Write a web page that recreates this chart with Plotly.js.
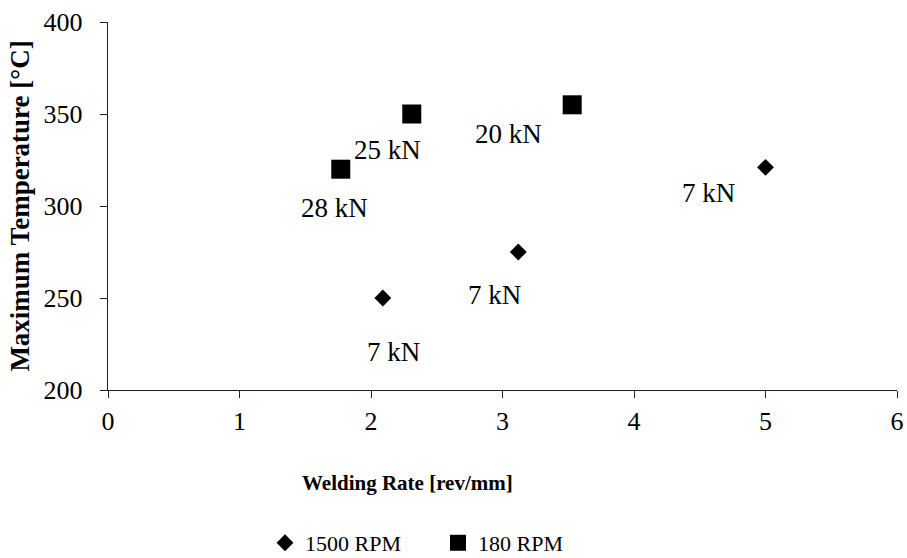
<!DOCTYPE html>
<html>
<head>
<meta charset="utf-8">
<script src="https://cdn.plot.ly/plotly-3.0.1.min.js"></script>
<style>html,body{margin:0;padding:0;background:#fff;overflow:hidden;width:907px;height:558px;}#chart{width:907px;height:590px;}</style>
</head>
<body>
<div id="chart"></div>
<script>
// Data
const rpm1500_x = [2.09, 3.12, 5.0];
const rpm1500_y = [250, 275, 321];
const rpm1500_labels = ["7 kN", "7 kN", "7 kN"];
const rpm180_x = [1.77, 2.31, 3.53];
const rpm180_y = [320, 350, 355];
const rpm180_labels = ["28 kN", "25 kN", "20 kN"];
const xTicks = [0, 1, 2, 3, 4, 5, 6];
const yTicks = [200, 250, 300, 350, 400];
const xTitle = "Welding Rate [rev/mm]";
const yTitle = "Maximum Temperature [°C]";

// label offsets (pixels) relative to each point
const off1500 = [[11, 54], [-24, 43], [-57, 26]];
const off180 = [[-6, 39], [-24, 36], [-64, 29]];

const FONT = "'Times New Roman', 'Liberation Serif', serif";

const traces = [
  {x: rpm1500_x, y: rpm1500_y, type: "scatter", mode: "markers", name: "1500 RPM",
   marker: {symbol: "diamond", size: 13, color: "#000"}},
  {x: rpm180_x, y: rpm180_y, type: "scatter", mode: "markers", name: "180 RPM",
   marker: {symbol: "square", size: 19, color: "#000"}}
];

const annotations = [];
rpm1500_x.forEach((x, i) => annotations.push({x: x, y: rpm1500_y[i], text: rpm1500_labels[i],
  showarrow: false, xshift: off1500[i][0], yshift: -off1500[i][1], font: {family: FONT, size: 27, color: "#000"}}));
rpm180_x.forEach((x, i) => annotations.push({x: x, y: rpm180_y[i], text: rpm180_labels[i],
  showarrow: false, xshift: off180[i][0], yshift: -off180[i][1], font: {family: FONT, size: 27, color: "#000"}}));
// x-axis title (offset left of centre, as in the original)
annotations.push({xref: "paper", yref: "paper", x: 0.379, y: -0.2527, xanchor: "center", yanchor: "middle",
  showarrow: false, text: "<b>" + xTitle + "</b>", font: {family: FONT, size: 21, color: "#000"}});

const layout = {
  width: 907, height: 590,
  margin: {l: 108, r: 10, t: 22, b: 200},
  paper_bgcolor: "#fff", plot_bgcolor: "#fff",
  font: {family: FONT, size: 24, color: "#000"},
  showlegend: true,
  legend: {orientation: "h", x: 0.199, xanchor: "left", y: -0.4157, yanchor: "middle",
           font: {family: FONT, size: 22, color: "#000"}, itemwidth: 30, entrywidth: 128, tracegroupgap: 0},
  xaxis: {range: [0, 6], tickvals: xTicks, ticks: "outside", ticklen: 7, tickcolor: "#222",
          showline: true, linecolor: "#222", linewidth: 1.3, showgrid: false, zeroline: false,
          tickfont: {family: FONT, size: 26}, fixedrange: true},
  yaxis: {range: [200, 400], tickvals: yTicks, ticks: "outside", ticklen: 7, tickcolor: "#222",
          showline: true, linecolor: "#222", linewidth: 1.3, showgrid: false, zeroline: false,
          tickfont: {family: FONT, size: 26}, ticklabelstandoff: 12, fixedrange: true,
          title: {text: "<b>" + yTitle + "</b>", font: {family: FONT, size: 27}, standoff: 6}},
  annotations: annotations
};

Plotly.newPlot("chart", traces, layout, {displayModeBar: false, staticPlot: true});
</script>
</body>
</html>
